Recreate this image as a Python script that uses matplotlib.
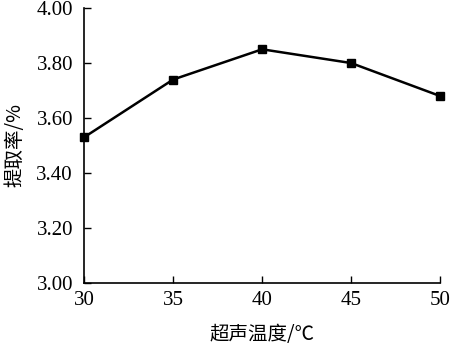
import matplotlib
matplotlib.use("Agg")
import matplotlib.pyplot as plt

# 数据
temp = [30, 35, 40, 45, 50]
rate = [3.53, 3.74, 3.85, 3.80, 3.68]
err = [0.01, 0.01, 0.01, 0.01, 0.01]
yticks = [3.00, 3.20, 3.40, 3.60, 3.80, 4.00]

plt.rcParams["font.family"] = ["Liberation Serif", "Noto Sans CJK SC"]

fig = plt.figure(figsize=(4.5, 3.51), dpi=100)
ax = fig.add_axes([0.187, 0.194, 0.791, 0.783])

ax.errorbar(temp, rate, yerr=err, color="black", marker="s", markersize=6,
            linewidth=1.8, elinewidth=1.4, capsize=3, clip_on=False)

ax.set_xlim(30, 50)
ax.set_ylim(3.0, 4.0)
ax.set_xticks(temp)
ax.set_yticks(yticks)
ax.set_yticklabels([f"{v:.2f}" for v in yticks])
ax.tick_params(direction="in", labelsize=15, length=5, width=1)
ax.tick_params(axis="y", pad=8)
ax.tick_params(axis="x", pad=6)
ax.spines["top"].set_visible(False)
ax.spines["right"].set_visible(False)
for s in ["left", "bottom"]:
    ax.spines[s].set_linewidth(1.2)

ax.set_xlabel("超声温度/℃", fontsize=14, labelpad=10,
              family=["Noto Sans CJK SC", "DejaVu Sans"])
ax.set_ylabel("提取率/%", fontsize=14, labelpad=8,
              family=["Noto Sans CJK SC", "DejaVu Sans"])

fig.savefig("out.png", dpi=100)
